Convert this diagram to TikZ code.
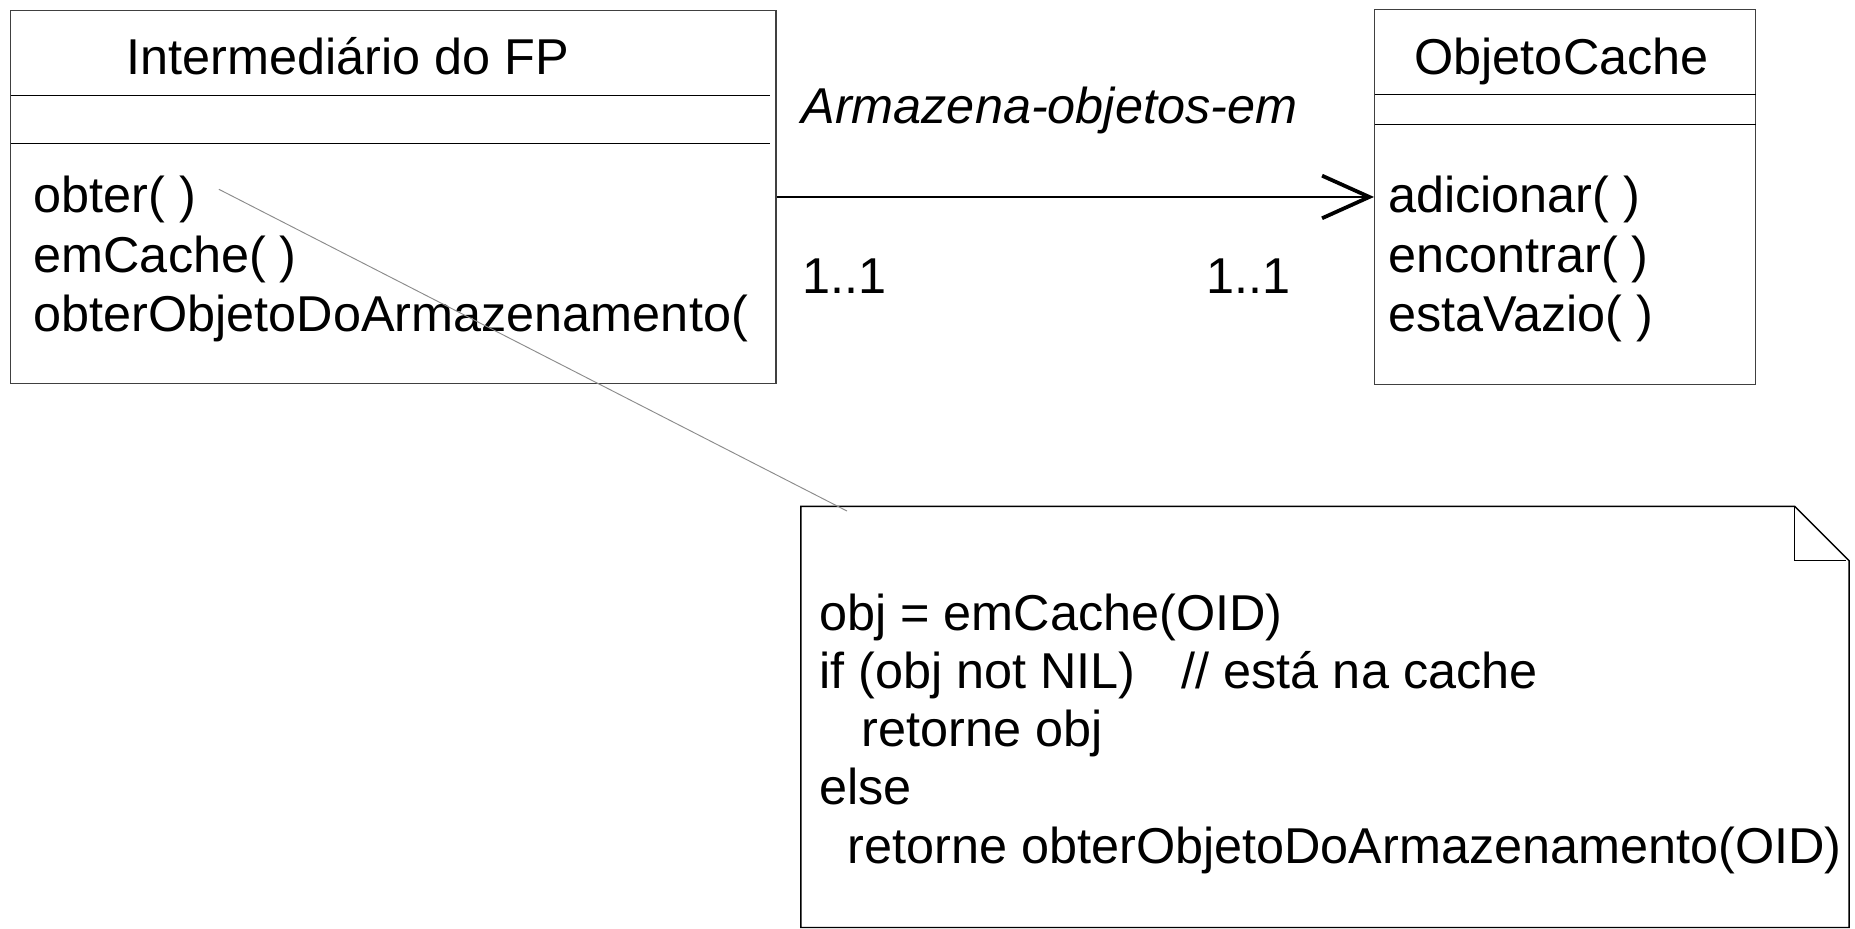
\documentclass[tikz,border=0pt]{standalone}
\usepackage{fontspec}
\setmainfont{Liberation Sans}
\usetikzlibrary{arrows.meta}

\definecolor{boxGray}{HTML}{404040}
\definecolor{anchorGray}{HTML}{8C8C8C}

\begin{document}
\begin{tikzpicture}[x=0.5pt, y=-0.5pt,
    member/.style={anchor=base west, inner sep=0pt, font=\fontsize{21.3}{25}\selectfont},
    classname/.style={anchor=base, inner sep=0pt, font=\fontsize{21.3}{25}\selectfont},
    classbox/.style={draw=boxGray, line width=0.6pt, inner sep=0pt}]
    \useasboundingbox (0,0) rectangle (1568,785);

    \node[classbox, minimum width=323.5pt, minimum height=157.5pt] (fp) at (332.5,166.5) {};
    \node[classbox, minimum width=161pt, minimum height=158.5pt] (cache) at (1323,166.5) {};

    \draw[line width=0.5pt] (9,81) -- (651,81);
    \draw[line width=0.5pt] (9,121) -- (651,121);
    \draw[line width=0.5pt] (1162,80) -- (1484,80);
    \draw[line width=0.5pt] (1162,105) -- (1484,105);

    \node[classname] (fpname) at (294,63) {Intermediário do FP};
    \node[member] (obter) at (28,180) {obter( )};
    \node[member] (emcache) at (28,230) {emCache( )};
    \node[member] (obterobj) at (28,280) {obterObjetoDoArmazenamento(};

    \node[classname] (cachename) at (1320,63) {ObjetoCache};
    \node[member] (adicionar) at (1173,180) {adicionar( )};
    \node[member] (encontrar) at (1173,230) {encontrar( )};
    \node[member] (estavazio) at (1173,280) {estaVazio( )};

    \draw[line width=0.6pt, -{Straight Barb[length=20pt, width=18pt, line width=1.6pt]}] (fp.east) -- (cache.west);
    \node[member, font=\fontsize{21.3}{25}\selectfont\itshape] (assoc) at (677,104) {Armazena-objetos-em};
    \node[member] (multfp) at (678,248) {1..1};
    \node[member] (multcache) at (1019,248) {1..1};

    \draw[line width=0.6pt] (677,428) -- (1517,428) -- (1563,474) -- (1563,784) -- (677,784) -- cycle;
    \draw[line width=0.6pt] (1517,428) -- (1517,474) -- (1560,474);

    \node[member] (line1) at (692,533) {obj = emCache(OID)};
    \node[member] (line2) at (692,582) {if (obj not NIL)\hspace{19.5pt}// está na cache};
    \node[member] (line3) at (728,631) {retorne obj};
    \node[member] (line4) at (692,680) {else};
    \node[member] (line5) at (716,730) {retorne obterObjetoDoArmazenamento(OID)};

    \coordinate (obterend) at (185,160);
    \coordinate (notecorner) at (716,432);
    \draw[anchorGray, line width=0.4pt] (obterend) -- (notecorner);
\end{tikzpicture}
\end{document}
